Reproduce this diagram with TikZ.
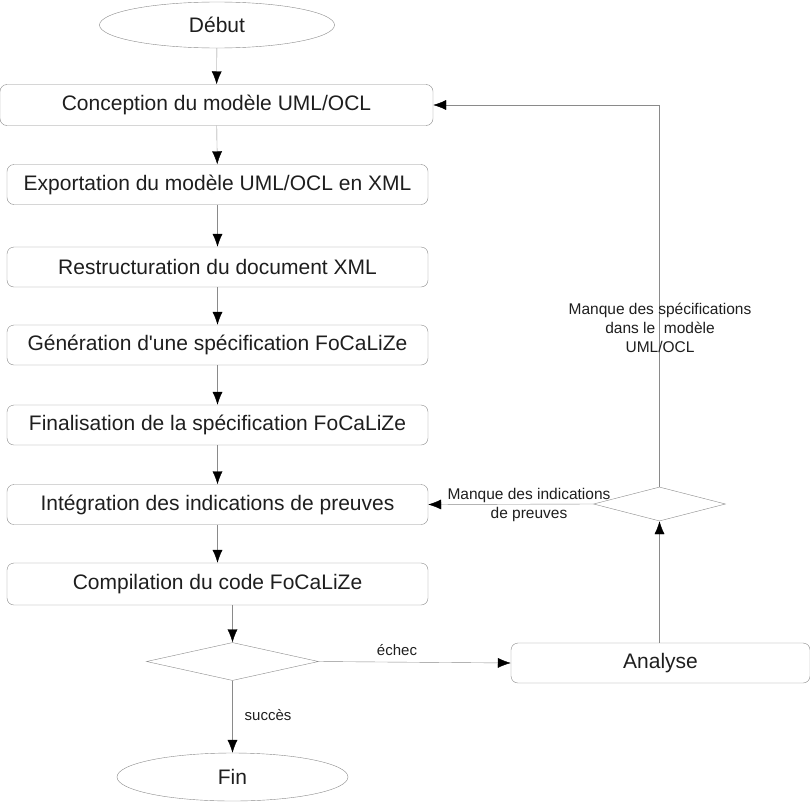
\documentclass[tikz,border=0pt]{standalone}
\usepackage{fontspec}
\setmainfont{Liberation Sans}
\usetikzlibrary{shapes.geometric,arrows.meta}
\definecolor{linegray}{HTML}{8A8A8A}
\definecolor{textgray}{HTML}{1E1E1E}

\begin{document}
\begin{tikzpicture}[x=1pt,y=-1pt,
   every node/.style={text=textgray},
   box/.style={draw=linegray, rounded corners=7pt, minimum width=421pt, minimum height=40pt, inner sep=0pt, font=\fontsize{21}{24}\selectfont},
   term/.style={draw=linegray, ellipse, inner sep=0pt, font=\fontsize{21}{24}\selectfont},
   test/.style={draw=linegray, diamond, inner sep=0pt},
   note/.style={align=center, inner sep=0pt, font=\fontsize{15.5}{19}\selectfont},
   flow/.style={draw=linegray, -{Latex[color=black,length=13pt,width=10pt]}}]
 \useasboundingbox (0,0) rectangle (810,803);
 % main column
 \node (deb) [term, minimum width=235pt, minimum height=46pt] at (217,25) {Début};
 \node (c1) [box, minimum width=433pt, minimum height=41pt] at (216.5,105) {Conception du modèle UML/OCL};
 \node (c2) [box] at (217.5,184.5) {Exportation du modèle UML/OCL en XML};
 \node (c3) [box] at (217.5,267) {Restructuration du document XML};
 \node (c4) [box] at (217.5,345) {Génération d\textquotesingle une spécification FoCaLiZe};
 \node (c5) [box] at (217.5,425) {Finalisation de la spécification FoCaLiZe};
 \node (c6) [box] at (217.5,504.5) {Intégration des indications de preuves};
 \node (c7) [box, minimum height=42pt] at (217.5,584) {Compilation du code FoCaLiZe};
 \node (t1) [test, minimum width=172pt, minimum height=38pt] at (232.5,661.5) {};
 \node (fin) [term, minimum width=231pt, minimum height=48pt] at (232.5,777) {Fin};
 % right branch
 \node (ana) [box, minimum width=299pt] at (660.5,663) {Analyse};
 \node (t2) [test, minimum width=132pt, minimum height=34pt] at (659.5,504) {};

 \draw[flow] (deb) -- (c1);
 \draw[flow] (c1) -- (c2);
 \draw[flow] (c2) -- (c3);
 \draw[flow] (c3) -- (c4);
 \draw[flow] (c4) -- (c5);
 \draw[flow] (c5) -- (c6);
 \draw[flow] (c6) -- (c7);
 \draw[flow] (c7.south -| t1.north) -- (t1.north);
 \draw[flow] (t1.south) -- (fin.north);
 \draw[flow] (t1.east) -- (ana.west);
 \draw[flow] (ana.north -| t2.south) -- (t2.south);
 \draw[flow] (t2.west) -- (c6.east);
 \draw[flow] (t2.north) |- (c1.east);

 \node (ok) [note, font=\fontsize{15}{18}\selectfont] at (268,715) {succès};
 \node (ko) [note, font=\fontsize{15}{18}\selectfont] at (397,650) {échec};
 \node (m1) [note] at (529,505) {Manque des indications\\de preuves};
 \node (m2) [note] at (660,328) {Manque des spécifications\\dans le~ modèle\\UML/OCL};
\end{tikzpicture}
\end{document}
